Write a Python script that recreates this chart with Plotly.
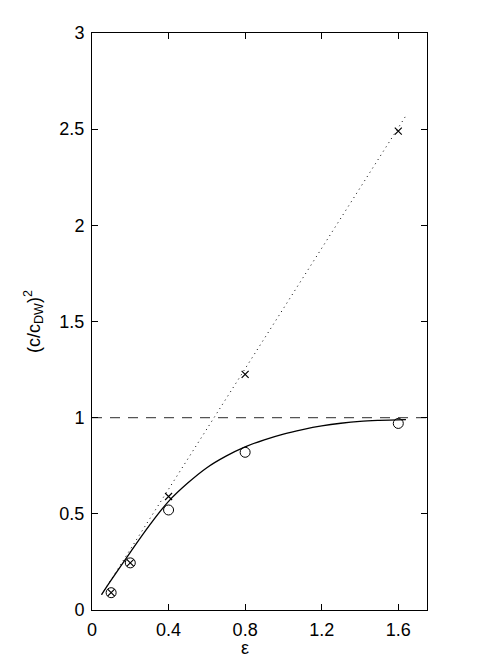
import plotly.graph_objects as go

# measured points (circles) and linear estimate (crosses)
eps = [0.1, 0.2, 0.4, 0.8, 1.6]
c2_circle = [0.09, 0.245, 0.52, 0.82, 0.97]
c2_cross = [0.09, 0.245, 0.59, 1.225, 2.49]

# solid fitted curve
eps_curve = [0.05, 0.1, 0.2, 0.3, 0.4, 0.5, 0.6, 0.7, 0.8, 0.9, 1.0,
             1.1, 1.2, 1.3, 1.4, 1.5, 1.64]
c2_curve = [0.08, 0.155, 0.30, 0.44, 0.565, 0.66, 0.74, 0.80, 0.848, 0.885, 0.915,
            0.938, 0.957, 0.971, 0.981, 0.986, 0.99]

# dotted straight line
eps_dot = [0.05, 1.64]
c2_dot = [0.08, 2.57]

# dashed reference level
eps_ref = [0, 1.75]
c2_ref = [1, 1]

xticks = [0, 0.4, 0.8, 1.2, 1.6]
xticklabels = ["0", "0.4", "0.8", "1.2", "1.6"]
yticks = [0, 0.5, 1, 1.5, 2, 2.5, 3]
yticklabels = ["0", "0.5", "1", "1.5", "2", "2.5", "3"]

FONT = "Liberation Sans, Arial, Helvetica, sans-serif"

fig = go.Figure()
fig.add_trace(go.Scatter(
    x=eps_ref, y=c2_ref, mode="lines",
    line=dict(color="#555555", width=1.3, dash="10px,8px"),
))
fig.add_trace(go.Scatter(
    x=eps_dot, y=c2_dot, mode="lines",
    line=dict(color="black", width=1, dash="1px,4px"),
))
fig.add_trace(go.Scatter(
    x=eps_curve, y=c2_curve, mode="lines",
    line=dict(color="black", width=1.3, shape="spline", smoothing=1),
))
fig.add_trace(go.Scatter(
    x=eps, y=c2_circle, mode="markers",
    marker=dict(symbol="circle-open", size=10, color="black", line=dict(width=1)),
))
fig.add_trace(go.Scatter(
    x=eps, y=c2_cross, mode="markers",
    marker=dict(symbol="x-thin-open", size=7, color="black", line=dict(width=1.2)),
))

axis_common = dict(
    showline=True, linecolor="black", linewidth=1, mirror="ticks",
    ticks="inside", ticklen=6, tickcolor="black", tickwidth=1,
    showgrid=False, zeroline=False, automargin=False,
    tickfont=dict(family=FONT, size=18, color="black"),
)

# the page sits 8px in from the corner, so the figure is 8px smaller each way
fig.update_layout(
    width=470, height=649,
    margin=dict(l=84, r=51, t=25, b=47),
    paper_bgcolor="white", plot_bgcolor="white",
    showlegend=False,
    xaxis=dict(
        range=[0, 1.75], tickvals=xticks, ticktext=xticklabels,
        ticklabelstandoff=3,
        **axis_common,
    ),
    yaxis=dict(
        range=[0, 3], tickvals=yticks, ticktext=yticklabels,
        ticklabelstandoff=3,
        title=dict(text="(c/c<sub>DW</sub>)<sup>2</sup>",
                   font=dict(family=FONT, size=18, color="black"), standoff=14),
        **axis_common,
    ),
)

# x label sits a little left of centre, as in the original
fig.add_annotation(
    text="ε", xref="x", yref="paper", x=0.8, y=0,
    yanchor="top", yshift=-26, showarrow=False,
    font=dict(family=FONT, size=18, color="black"),
)

fig.write_html("out.html")
